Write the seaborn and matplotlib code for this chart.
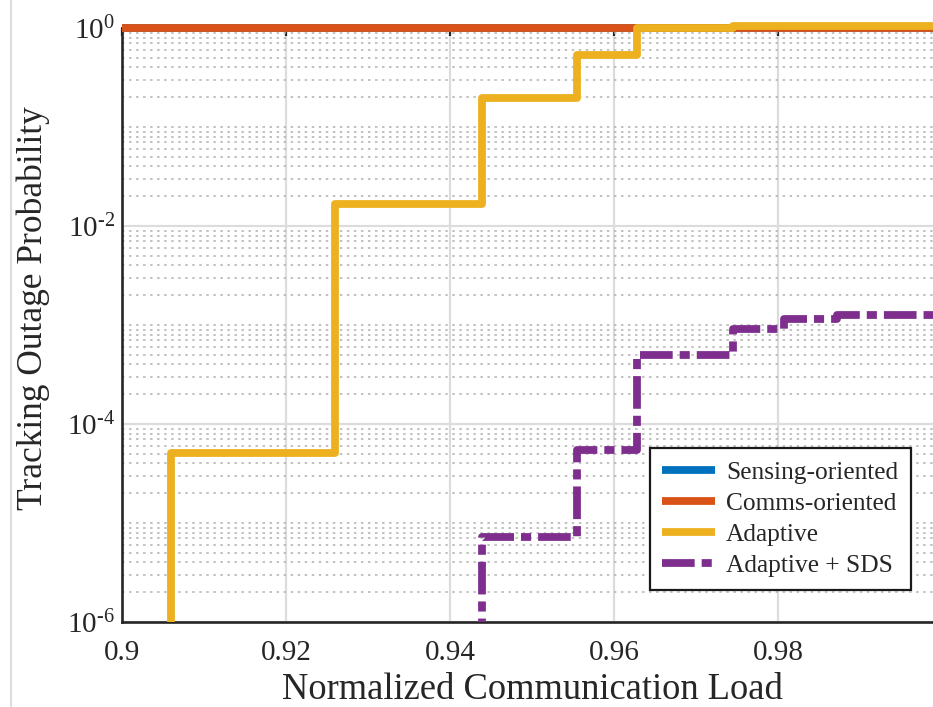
import numpy as np
import pandas as pd
import matplotlib
matplotlib.use("Agg")
import matplotlib.pyplot as plt
import matplotlib.patches as mpatches
from matplotlib.lines import Line2D
from matplotlib.ticker import FixedLocator, LogLocator, NullLocator, NullFormatter, FixedFormatter
import seaborn as sns

# ---------------- data ----------------
x_flat = [0.9, 1.0]
sensing_y = [1.0, 1.0]
comms_y = [1.0, 1.0]

adaptive_x = [0.9, 0.906, 0.926, 0.9439, 0.9555, 0.9628, 0.9745, 1.0]
adaptive_y = [1e-8, 5.1e-5, 0.0165, 0.196, 0.534, 1.0, 1.04, 1.04]

sds_x = [0.9, 0.9439, 0.9555, 0.9628, 0.9745, 0.9807, 0.9872, 1.0]
sds_y = [1e-8, 7.3e-6, 5.4e-5, 4.98e-4, 9.05e-4, 1.14e-3, 1.26e-3, 1.26e-3]

series_names = ["Sensing-oriented", "Comms-oriented", "Adaptive", "Adaptive + SDS"]
series_colors = ["#0072BD", "#D95319", "#EDB120", "#7E2F8E"]

x_ticks = [0.9, 0.92, 0.94, 0.96, 0.98]
x_tick_labels = ["0.9", "0.92", "0.94", "0.96", "0.98"]
y_ticks = [1e-6, 1e-4, 1e-2, 1e0]
y_tick_labels = [r"$10^{\text{-}6}$", r"$10^{\text{-}4}$", r"$10^{\text{-}2}$", r"$10^{0}$"]

# ---------------- style ----------------
sns.set_style("white")
plt.rcParams["font.family"] = ["Liberation Serif", "DejaVu Serif"]
plt.rcParams["mathtext.fontset"] = "custom"
plt.rcParams["mathtext.rm"] = "Liberation Serif"
plt.rcParams["mathtext.it"] = "Liberation Serif:italic"
plt.rcParams["mathtext.bf"] = "Liberation Serif:bold"
plt.rcParams["axes.unicode_minus"] = False

text_color = "#262626"

fig = plt.figure(figsize=(9.33, 7.07), dpi=100)
ax = fig.add_axes([122 / 933, 85 / 707, 820 / 933, 594 / 707])

clip_rect = mpatches.Rectangle((0, 0), 1, 1.1, transform=ax.transAxes)

frames = [
    pd.DataFrame({"x": x_flat, "y": sensing_y}),
    pd.DataFrame({"x": x_flat, "y": comms_y}),
    pd.DataFrame({"x": adaptive_x, "y": adaptive_y}),
    pd.DataFrame({"x": sds_x, "y": sds_y}),
]
styles = ["-", "-", "-", (0, (4.2, 0.9, 1.3, 0.9))]

for df, name, col, ls in zip(frames, series_names, series_colors, styles):
    sns.lineplot(data=df, x="x", y="y", ax=ax, color=col, label=name,
                 linewidth=5.6, linestyle=ls, drawstyle="steps-post",
                 solid_capstyle="butt", dash_capstyle="butt", sort=False,
                 estimator=None)

for ln in ax.get_lines():
    ln.set_clip_path(clip_rect)

ax.set_yscale("log")
ax.set_xlim(0.9, 1.0)
ax.set_ylim(1e-6, 1.0)

ax.xaxis.set_major_locator(FixedLocator(x_ticks))
ax.xaxis.set_major_formatter(FixedFormatter(x_tick_labels))
ax.xaxis.set_minor_locator(NullLocator())
ax.yaxis.set_major_locator(FixedLocator(y_ticks))
ax.yaxis.set_major_formatter(FixedFormatter(y_tick_labels))
ax.yaxis.set_minor_locator(LogLocator(base=10, subs=np.arange(1, 10), numticks=100))
ax.yaxis.set_minor_formatter(NullFormatter())

ax.grid(which="major", axis="both", color="#dcdcdc", linewidth=1.6, linestyle="-")
ax.grid(which="minor", axis="y", color="#b0b0b0", linewidth=1.1, linestyle=(0, (1.6, 3.0)))
ax.set_axisbelow(True)

for sp in ax.spines.values():
    sp.set_color(text_color)
    sp.set_linewidth(1.9)
    sp.set_zorder(1.5)

ax.tick_params(which="both", direction="in", top=True, right=True,
               color=text_color, labelcolor=text_color)
ax.tick_params(which="major", length=6, width=1.6, labelsize=21)
ax.tick_params(which="minor", length=3.5, width=1.4)
ax.tick_params(axis="x", which="major", pad=13)
ax.tick_params(axis="y", which="major", pad=5)

ax.set_xlabel("Normalized Communication Load", fontsize=26.3, color=text_color, va="center")
ax.xaxis.set_label_coords(0.5, -0.114)
ax.set_ylabel("Tracking Outage Probability", fontsize=25.5, color=text_color, va="center")
ax.yaxis.set_label_coords(-0.1085, 0.5286)

leg = ax.legend(loc="lower right", bbox_to_anchor=(0.962, 0.054), borderaxespad=0,
                fontsize=18.3, frameon=True, fancybox=False, framealpha=1,
                edgecolor="#1a1a1a", handlelength=2.05, handletextpad=0.45,
                labelspacing=0.33, borderpad=0.5)
leg.get_frame().set_linewidth(1.6)
for t in leg.get_texts():
    t.set_color(text_color)
for h in leg.get_lines():
    h.set_linewidth(5.6)

fig.add_artist(Line2D([10.5 / 933, 10.5 / 933], [0, 1], transform=fig.transFigure,
                      color="#dddddd", linewidth=1.5))

fig.savefig("out.png", dpi=100, facecolor="white")
